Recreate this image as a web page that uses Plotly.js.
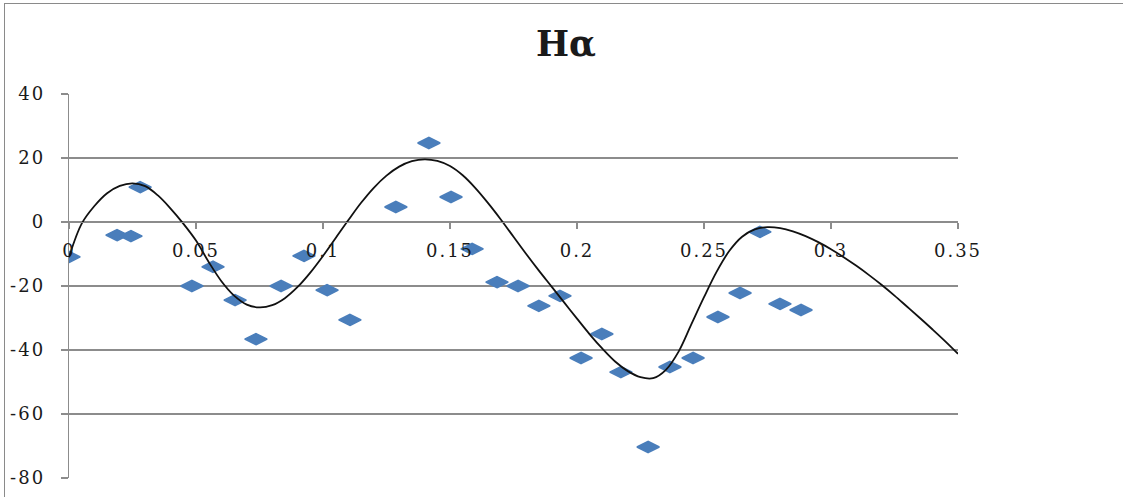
<!DOCTYPE html>
<html>
<head>
<meta charset="utf-8">
<script src="https://cdn.plot.ly/plotly-3.0.1.min.js"></script>
<style>
  html, body { margin: 0; padding: 0; background: #fff; }
  #wrap { position: relative; width: 1123px; height: 497px; overflow: hidden; }
  #chart { position: absolute; left: 0; top: 0; width: 1123px; height: 497px; }
  #frame { position: absolute; left: 4px; top: 3px; width: 1200px; height: 600px;
           border-left: 1.5px solid #8a8a8a; border-top: 1.5px solid #8a8a8a; pointer-events: none; }
  #chart .xtick text, #chart .ytick text { letter-spacing: 2px; }
</style>
</head>
<body>
<div id="wrap">
  <div id="chart"></div>
  <div id="frame"></div>
</div>
<script>
// Observed data points (phase vs. value)
const pointX = [0.000, 0.0189, 0.0244, 0.028, 0.0484, 0.0567, 0.0654, 0.0736, 0.0835, 0.0925,
                0.1016, 0.1106, 0.1287, 0.1417, 0.1504, 0.1587, 0.1685, 0.1768, 0.185, 0.1933,
                0.2016, 0.2098, 0.2173, 0.228, 0.2366, 0.2457, 0.2555, 0.2642, 0.272, 0.2799, 0.2882];
const pointY = [-10.9, -4.1, -4.4, 10.9, -20.0, -14.0, -24.4, -36.6, -20.0, -10.6,
                -21.3, -30.6, 4.7, 24.7, 7.8, -8.4, -18.8, -20.0, -26.2, -23.1,
                -42.5, -35.0, -46.9, -70.3, -45.3, -42.5, -29.7, -22.2, -3.1, -25.6, -27.5];

// Trend curve
const curveX = [0.000, 0.005, 0.010, 0.015, 0.020, 0.025, 0.030, 0.035, 0.040, 0.045,
                0.050, 0.055, 0.060, 0.065, 0.070, 0.075, 0.080, 0.085, 0.090, 0.095,
                0.100, 0.105, 0.110, 0.115, 0.120, 0.125, 0.130, 0.135, 0.140, 0.145,
                0.150, 0.155, 0.160, 0.165, 0.170, 0.175, 0.180, 0.185, 0.190, 0.195,
                0.200, 0.205, 0.210, 0.215, 0.220, 0.225, 0.230, 0.235, 0.240, 0.245,
                0.250, 0.255, 0.260, 0.265, 0.270, 0.275, 0.280, 0.285, 0.290, 0.295,
                0.300, 0.305, 0.310, 0.315, 0.320, 0.325, 0.330, 0.335, 0.340, 0.345, 0.350];
const curveY = [-11.0, -0.5, 5.0, 9.0, 11.3, 12.1, 11.2, 8.3, 4.2, -0.5,
                -5.8, -12.5, -18.5, -23.0, -25.8, -26.7, -26.0, -23.8, -20.3, -15.8,
                -10.6, -5.0, 0.6, 6.0, 10.7, 14.5, 17.3, 19.0, 19.6, 19.1,
                17.5, 14.6, 10.6, 5.9, 0.8, -4.6, -10.0, -15.2, -20.2, -25.2,
                -30.2, -35.1, -39.6, -43.6, -46.6, -48.5, -48.8, -46.2, -40.5, -32.0,
                -23.5, -15.5, -9.0, -4.6, -2.3, -1.6, -1.9, -2.9, -4.4, -6.3,
                -8.5, -11.0, -13.7, -16.6, -19.7, -23.0, -26.5, -30.0, -33.6, -37.3, -41.2];

const xTickVals = [0, 0.05, 0.1, 0.15, 0.2, 0.25, 0.3, 0.35];
const xTickText = ["0", "0.05", "0.1", "0.15", "0.2", "0.25", "0.3", "0.35"];
const yTickVals = [40, 20, 0, -20, -40, -60, -80];
const yTickText = ["40", "20", "0", "-20", "-40", "-60", "-80"];

const gridColor = "#8c8c8c";
const tickFont = { family: "DejaVu Serif", size: 18, color: "#1a1a1a" };

const traces = [
  {
    x: pointX, y: pointY, type: "scatter", mode: "markers",
    marker: { symbol: "diamond-wide", size: 16, color: "#4a7ebb", line: { color: "#4a7ebb", width: 1.5 } },
    hoverinfo: "x+y", showlegend: false
  },
  {
    x: curveX, y: curveY, type: "scatter", mode: "lines",
    line: { color: "#111", width: 1.8, shape: "spline", smoothing: 1 },
    hoverinfo: "skip", showlegend: false
  }
];

const layout = {
  width: 1123, height: 497,
  margin: { l: 69, r: 165, t: 94, b: 19, pad: 0 },
  paper_bgcolor: "#fff", plot_bgcolor: "#fff",
  showlegend: false,
  title: {
    text: "<b>Hα</b>",
    font: { family: "DejaVu Serif", size: 35, color: "#1a1a1a" },
    x: 566 / 1123, xref: "container", xanchor: "center",
    y: 1 - 44 / 497, yref: "container", yanchor: "middle"
  },
  xaxis: {
    range: [0, 0.35],
    anchor: "free", position: 2 / 3,
    tickvals: xTickVals, ticktext: xTickText,
    tickfont: tickFont,
    showgrid: false, zeroline: false,
    showline: true, linecolor: gridColor, linewidth: 1.3,
    ticks: "outside", ticklen: 6, tickcolor: gridColor, tickwidth: 1.3,
    ticklabelstandoff: 6
  },
  yaxis: {
    range: [-80, 40],
    tickvals: yTickVals, ticktext: yTickText,
    tickfont: tickFont,
    showgrid: true, gridcolor: gridColor, gridwidth: 1.3,
    zeroline: false,
    showline: true, linecolor: gridColor, linewidth: 1.3,
    ticks: "outside", ticklen: 7, tickcolor: gridColor, tickwidth: 1.3,
    ticklabelstandoff: 12
  }
};

Plotly.newPlot("chart", traces, layout, { displayModeBar: false, staticPlot: true });
</script>
</body>
</html>
